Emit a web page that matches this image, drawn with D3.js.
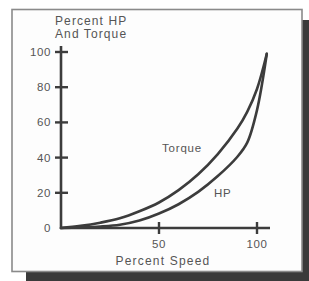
<!DOCTYPE html>
<html>
<head>
<meta charset="utf-8">
<script src="https://cdn.jsdelivr.net/npm/d3@7"></script>
<style>
  body { margin: 0; background: #fff; }
  text { font-family: "Liberation Sans", Arial, sans-serif; fill: #555; }
</style>
</head>
<body>
<div id="chart"></div>
<script>
/** DATA */
let speed  = [0, 10, 20, 30, 40, 50, 60, 70, 80, 90, 95, 100, 105];
let torque = [0, 1.2, 3, 5.5, 9.5, 14.5, 21.5, 30.5, 42, 56.5, 66, 79, 99];
let hp     = [0, 0.3, 0.8, 1.8, 4.2, 8.2, 13.5, 20.5, 29.5, 40.5, 48.5, 67, 99];
let xTicks = [50, 100];
let yTicks = [0, 20, 40, 60, 80, 100];

let width = 309, height = 281;
let ink = "#3c3c3c";

let svg = d3.select("#chart")
  .append("svg")
  .attr("width", width)
  .attr("height", height);

/** FRAME + SHADOW */
svg.append("rect")
  .attr("x", 26).attr("y", 20)
  .attr("width", 290).attr("height", 263)
  .style("fill", "#3a3a3a");
svg.append("rect")
  .attr("x", 12).attr("y", 9.5)
  .attr("width", 290).attr("height", 262)
  .style("fill", "#fdfdfd")
  .style("stroke", "#8a8a8a")
  .style("stroke-width", 1.6);

/** SCALES */
let x = d3.scaleLinear().domain([0, 100]).range([61, 257]);
let y = d3.scaleLinear().domain([0, 100]).range([228, 52]);

/** AXES */
let g = svg.append("g");
g.append("line")
  .attr("x1", x(0)).attr("x2", x(0))
  .attr("y1", y(0) + 1).attr("y2", 46)
  .style("stroke", ink).style("stroke-width", 2.6);
g.append("line")
  .attr("x1", x(0) - 1).attr("x2", 270)
  .attr("y1", y(0)).attr("y2", y(0))
  .style("stroke", ink).style("stroke-width", 2.6);

yTicks.filter(d => d > 0).forEach(d => {
  g.append("line")
    .attr("x1", x(0) - 6).attr("x2", x(0) + 7)
    .attr("y1", y(d)).attr("y2", y(d))
    .style("stroke", ink).style("stroke-width", 2.4);
});
xTicks.forEach(d => {
  g.append("line")
    .attr("x1", x(d)).attr("x2", x(d))
    .attr("y1", y(0) - 6).attr("y2", y(0) + 6)
    .style("stroke", ink).style("stroke-width", 2.4);
});

g.selectAll(".ylab")
  .data(yTicks).enter()
  .append("text")
  .attr("x", 51)
  .attr("y", d => y(d) + 4)
  .attr("text-anchor", "end")
  .attr("font-size", 11.5)
  .style("letter-spacing", "0.6px")
  .text(d => d);

g.selectAll(".xlab")
  .data(xTicks).enter()
  .append("text")
  .attr("x", d => x(d))
  .attr("y", 248)
  .attr("text-anchor", "middle")
  .attr("font-size", 11.5)
  .style("letter-spacing", "0.6px")
  .text(d => d);

/** TITLES */
svg.append("text")
  .attr("x", 163).attr("y", 265)
  .attr("text-anchor", "middle")
  .attr("font-size", 12)
  .style("letter-spacing", "1.2px")
  .text("Percent Speed");
svg.append("text")
  .attr("x", 55).attr("y", 25)
  .attr("font-size", 12)
  .style("letter-spacing", "1.1px")
  .text("Percent HP");
svg.append("text")
  .attr("x", 55).attr("y", 38)
  .attr("font-size", 12)
  .style("letter-spacing", "1.1px")
  .text("And Torque");

/** CURVES */
let line = d3.line()
  .x(d => x(d[0]))
  .y(d => y(d[1]))
  .curve(d3.curveCatmullRom.alpha(0.5));

[torque, hp].forEach(series => {
  svg.append("path")
    .datum(speed.map((s, i) => [s, series[i]]))
    .attr("d", line)
    .style("fill", "none")
    .style("stroke", ink)
    .style("stroke-width", 2.6)
    .style("stroke-linecap", "round");
});

/** CURVE LABELS */
svg.append("text")
  .attr("x", 162).attr("y", 152)
  .attr("font-size", 11.5)
  .style("letter-spacing", "0.8px")
  .text("Torque");
svg.append("text")
  .attr("x", 214).attr("y", 197)
  .attr("font-size", 11.5)
  .style("letter-spacing", "0.8px")
  .text("HP");
</script>
</body>
</html>
